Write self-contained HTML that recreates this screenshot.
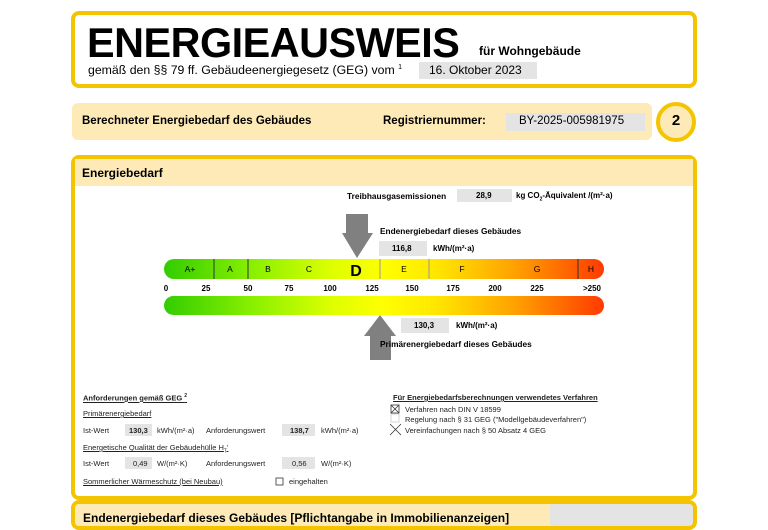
<!DOCTYPE html>
<html><head><meta charset="utf-8"><style>
*{margin:0;padding:0;box-sizing:border-box}
body{width:768px;height:512px;background:#fff;position:relative;overflow:hidden;font-family:"Liberation Sans",sans-serif;color:#000}
.a{position:absolute;white-space:nowrap}
.box{position:absolute;border:4px solid #f5c400;border-radius:8px}
.g{position:absolute;background:#e4e4e4}
.s{font-size:7.5px;color:#222}
.u{text-decoration:underline}
.b{font-weight:bold}
</style></head><body>
<div class="box" style="left:71px;top:11px;width:626px;height:77px"></div>
<div class="a b" style="left:87px;top:19px;font-size:42px;letter-spacing:-0.5px;transform:scaleX(0.985);transform-origin:left">ENERGIEAUSWEIS</div>
<div class="a b" style="left:479px;top:44px;font-size:12px">für Wohngebäude</div>
<div class="a" style="left:88px;top:63px;font-size:12.3px">gemäß den §§ 79 ff. Gebäudeenergiegesetz (GEG) vom <sup style="font-size:7px">1</sup></div>
<div class="g" style="left:419px;top:62px;width:118px;height:17px"></div>
<div class="a" style="left:429px;top:63px;font-size:12px">16. Oktober 2023</div>

<div class="a" style="left:72px;top:103px;width:580px;height:37px;background:#fdeab7;border-radius:6px"></div>
<div class="a b" style="left:82px;top:115px;font-size:11.5px">Berechneter Energiebedarf des Gebäudes</div>
<div class="a b" style="left:383px;top:115px;font-size:11.5px">Registriernummer:</div>
<div class="g" style="left:506px;top:113px;width:139px;height:18px"></div>
<div class="a" style="left:519px;top:115px;font-size:11.5px">BY-2025-005981975</div>
<div class="a" style="left:656px;top:102px;width:40px;height:40px;border:4px solid #f5c400;border-radius:50%;background:#fdeab7"></div>
<div class="a b" style="left:676px;top:112px;font-size:15px;transform:translateX(-50%)">2</div>

<div class="box" style="left:71px;top:155px;width:626px;height:345px"></div>
<div class="a" style="left:75px;top:159px;width:618px;height:27px;background:#fdeab7"></div>
<div class="a b" style="left:82px;top:166px;font-size:12px">Energiebedarf</div>

<div class="a b" style="left:347px;top:191px;font-size:8.3px">Treibhausgasemissionen</div>
<div class="g" style="left:457px;top:189px;width:55px;height:13px"></div>
<div class="a b" style="left:476px;top:191px;font-size:8px">28,9</div>
<div class="a b" style="left:516px;top:191px;font-size:8px">kg CO<sub style="font-size:5px">2</sub>-Äquivalent /(m²·a)</div>

<div class="a b" style="left:380px;top:226px;font-size:8.3px">Endenergiebedarf dieses Gebäudes</div>
<div class="g" style="left:379px;top:241px;width:48px;height:15px"></div>
<div class="a b" style="left:392px;top:244px;font-size:8px">116,8</div>
<div class="a b" style="left:433px;top:244px;font-size:8px">kWh/(m²·a)</div>

<svg class="a" style="left:0;top:0" width="768" height="512">
<defs>
<linearGradient id="gr" x1="164" x2="604" gradientUnits="userSpaceOnUse">
<stop offset="0" stop-color="#33cc00"/><stop offset="0.2" stop-color="#88f000"/><stop offset="0.38" stop-color="#ddff00"/><stop offset="0.5" stop-color="#ffff00"/><stop offset="0.62" stop-color="#ffe600"/><stop offset="0.8" stop-color="#ffa000"/><stop offset="1" stop-color="#ff3a00"/>
</linearGradient></defs>
<rect x="164" y="259" width="440" height="20" rx="10" fill="url(#gr)"/>
<rect x="164" y="296" width="440" height="19" rx="9.5" fill="url(#gr)"/>
<g stroke="#333" stroke-width="1"><line x1="214" y1="259" x2="214" y2="279"/><line x1="248" y1="259" x2="248" y2="279"/><line x1="578" y1="259" x2="578" y2="279"/></g>
<g stroke="#999" stroke-width="1"><line x1="380" y1="259" x2="380" y2="279"/><line x1="429" y1="259" x2="429" y2="279"/></g>
<polygon points="346,214 368,214 368,233 373,233 357,258 342,233 346,233" fill="#808080"/>
<polygon points="380,315 396,336 391,336 391,360 370,360 370,336 364,336" fill="#808080"/>
<g font-family="Liberation Sans" font-size="8.5" text-anchor="middle">
<text x="190" y="272">A+</text><text x="230" y="272">A</text><text x="268" y="272">B</text><text x="309" y="272">C</text>
<text x="356" y="276" font-size="16" font-weight="bold">D</text><text x="404" y="272">E</text><text x="462" y="272">F</text><text x="537" y="272">G</text><text x="591" y="272">H</text>
</g>
<g font-family="Liberation Sans" font-size="8" font-weight="bold" text-anchor="middle">
<text x="166" y="291">0</text><text x="206" y="291">25</text><text x="248" y="291">50</text><text x="289" y="291">75</text><text x="330" y="291">100</text><text x="372" y="291">125</text><text x="412" y="291">150</text><text x="453" y="291">175</text><text x="495" y="291">200</text><text x="537" y="291">225</text><text x="592" y="291">&gt;250</text>
</g>
<g stroke="#333" stroke-width="0.8" fill="none">
<rect x="391" y="405" width="8" height="8"/><line x1="391" y1="405" x2="399" y2="413"/><line x1="399" y1="405" x2="391" y2="413"/>
<rect x="391" y="414" width="8" height="8" stroke="#ccc"/>
<line x1="390" y1="424" x2="401" y2="435"/><line x1="401" y1="424" x2="390" y2="435"/>
<rect x="276" y="478" width="7" height="7"/>
</g>
</svg>

<div class="g" style="left:401px;top:318px;width:48px;height:15px"></div>
<div class="a b" style="left:414px;top:321px;font-size:8px">130,3</div>
<div class="a b" style="left:456px;top:321px;font-size:8px">kWh/(m²·a)</div>
<div class="a b" style="left:380px;top:339px;font-size:8.3px">Primärenergiebedarf dieses Gebäudes</div>

<div class="a s b u" style="left:83px;top:393px">Anforderungen gemäß GEG <sup style="font-size:5px">2</sup></div>
<div class="a s u" style="left:83px;top:409px">Primärenergiebedarf</div>
<div class="a s" style="left:83px;top:426px">Ist-Wert</div>
<div class="g" style="left:125px;top:424px;width:27px;height:12px"></div>
<div class="a s b" style="left:129px;top:426px">130,3</div>
<div class="a s" style="left:157px;top:426px">kWh/(m²·a)</div>
<div class="a s" style="left:206px;top:426px">Anforderungswert</div>
<div class="g" style="left:282px;top:424px;width:33px;height:12px"></div>
<div class="a s b" style="left:290px;top:426px">138,7</div>
<div class="a s" style="left:321px;top:426px">kWh/(m²·a)</div>
<div class="a s u" style="left:83px;top:443px">Energetische Qualität der Gebäudehülle H<sub style="font-size:5px">T</sub>'</div>
<div class="a s" style="left:83px;top:459px">Ist-Wert</div>
<div class="g" style="left:125px;top:457px;width:27px;height:12px"></div>
<div class="a s" style="left:133px;top:459px">0,49</div>
<div class="a s" style="left:157px;top:459px">W/(m²·K)</div>
<div class="a s" style="left:206px;top:459px">Anforderungswert</div>
<div class="g" style="left:282px;top:457px;width:33px;height:12px"></div>
<div class="a s" style="left:292px;top:459px">0,56</div>
<div class="a s" style="left:321px;top:459px">W/(m²·K)</div>
<div class="a s u" style="left:83px;top:477px">Sommerlicher Wärmeschutz (bei Neubau)</div>
<div class="a s" style="left:289px;top:477px">eingehalten</div>

<div class="a s b u" style="left:393px;top:393px">Für Energiebedarfsberechnungen verwendetes Verfahren</div>
<div class="a s" style="left:405px;top:405px">Verfahren nach DIN V 18599</div>
<div class="a s" style="left:405px;top:415px">Regelung nach § 31 GEG ("Modellgebäudeverfahren")</div>
<div class="a s" style="left:405px;top:426px">Vereinfachungen nach § 50 Absatz 4 GEG</div>

<div class="box" style="left:71px;top:500px;width:626px;height:30px;background:#e4e4e4;overflow:hidden">
<div class="a" style="left:0;top:0;width:475px;height:30px;background:#fdeab7"></div>
<div class="a b" style="left:8px;top:7px;font-size:12px">Endenergiebedarf dieses Gebäudes [Pflichtangabe in Immobilienanzeigen]</div>
</div>
</body></html>
